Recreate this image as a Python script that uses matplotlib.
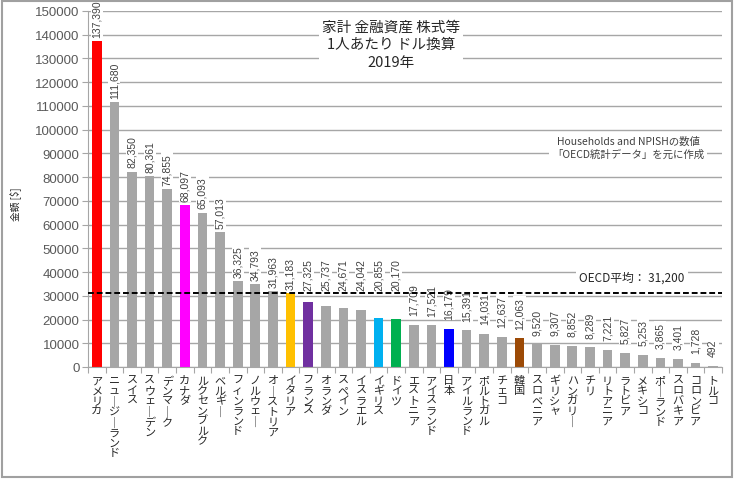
import matplotlib
matplotlib.use("Agg")
import matplotlib.pyplot as plt
from matplotlib.patches import Rectangle

plt.rcParams['font.family'] = ['Noto Sans CJK JP', 'DejaVu Sans']

countries = ["アメリカ", "ニュージーランド", "スイス", "スウェーデン", "デンマーク", "カナダ",
             "ルクセンブルク", "ベルギー", "フィンランド", "ノルウェー", "オーストリア", "イタリア",
             "フランス", "オランダ", "スペイン", "イスラエル", "イギリス", "ドイツ",
             "エストニア", "アイスランド", "日本", "アイルランド", "ポルトガル", "チェコ",
             "韓国", "スロベニア", "ギリシャ", "ハンガリー", "チリ", "リトアニア",
             "ラトビア", "メキシコ", "ポーランド", "スロバキア", "コロンビア", "トルコ"]
values = [137390, 111680, 82350, 80361, 74855, 68097,
          65093, 57013, 36325, 34793, 31963, 31183,
          27325, 25737, 24671, 24042, 20855, 20170,
          17709, 17521, 16179, 15391, 14031, 12637,
          12063, 9520, 9307, 8852, 8289, 7221,
          5827, 5253, 3865, 3401, 1728, 492]
oecd_avg = 31200
yticks = list(range(0, 150001, 10000))

highlight = {"アメリカ": "#FF0000", "カナダ": "#FF00FF", "イタリア": "#FFC000",
             "フランス": "#7030A0", "イギリス": "#00B0F0", "ドイツ": "#00B050",
             "日本": "#0000FF", "韓国": "#9C4A06"}
colors = [highlight.get(c, "#A6A6A6") for c in countries]

fig = plt.figure(figsize=(7.35, 4.81), dpi=100)
ax = fig.add_axes([88/735, 1-368/481, (722-88)/735, (368-12)/481])

x = list(range(len(countries)))
ax.bar(x, values, width=0.55, color=colors, zorder=2)
ax.set_xlim(-0.5, len(countries)-0.5)
ax.set_ylim(0, 150000)
ax.set_yticks(yticks)
ax.set_yticklabels([str(v) for v in yticks], fontsize=9.5, color="#595959",
                   family=['Liberation Sans', 'DejaVu Sans'])
ax.yaxis.grid(True, color="#A6A6A6", lw=1, zorder=0)
ax.set_axisbelow(True)
for s in ["top", "right"]:
    ax.spines[s].set_visible(False)
ax.spines["left"].set_color("#A6A6A6")
ax.spines["bottom"].set_color("#A6A6A6")
ax.tick_params(axis='y', length=4, color="#A6A6A6", pad=2)
ax.set_xticks([i - 0.5 for i in range(len(countries)+1)])
ax.set_xticklabels([])
ax.tick_params(axis='x', length=4, color="#A6A6A6")

def vert(s):
    return "\n".join("｜" if ch == "ー" else ch for ch in s)

for i, c in enumerate(countries):
    ax.text(i, -3500, vert(c), ha='center', va='top', fontsize=8, color="#262626",
            linespacing=1.0)

# value labels: Excel-like placement, labels that would cross the average line sit above it
for i, v in enumerate(values):
    if v >= oecd_avg - 1000:
        anchor, off = v, 3
    elif v > oecd_avg - 13000:
        anchor, off = oecd_avg, 2
    else:
        anchor, off = v, 7
    ax.annotate(f"{v:,}", (i, anchor), xytext=(0, off), textcoords='offset points',
                rotation=90, ha='center', va='bottom', fontsize=7.5, color="#404040",
                family=['Liberation Sans', 'DejaVu Sans'],
                bbox=dict(boxstyle='square,pad=0.1', fc='white', ec='none'), zorder=3)

ax.axhline(oecd_avg, color="black", ls=(0, (3, 1.5)), lw=1.4, zorder=4)

ax.set_ylabel("金額 [$]", fontsize=7, color="#262626", labelpad=4)
ax.yaxis.set_label_coords(-0.105, 0.46)

fig.text(391/735, 1-21/481, "家計 金融資産 株式等\n1人あたり ドル換算\n2019年", ha='center', va='top',
         fontsize=10.5, color="#262626", linespacing=1.3,
         bbox=dict(boxstyle='square,pad=0.2', fc='white', ec='none'))
fig.text(628/735, 1-148/481, "Households and NPISHの数値\n「OECD統計データ」を元に作成",
         ha='center', va='center', fontsize=7.5, color="#404040", linespacing=1.3,
         bbox=dict(boxstyle='square,pad=0.3', fc='white', ec='none'))
fig.text(632/735, 1-278/481, "OECD平均： 31,200", ha='center', va='center',
         fontsize=8.5, color="#262626",
         bbox=dict(boxstyle='square,pad=0.3', fc='white', ec='none'))

fig.patches.append(Rectangle((2/735, 3/481), 730/735, 476/481, transform=fig.transFigure,
                             fill=False, ec="#A0A0A0", lw=1.5))

fig.savefig("out.png", dpi=100)
